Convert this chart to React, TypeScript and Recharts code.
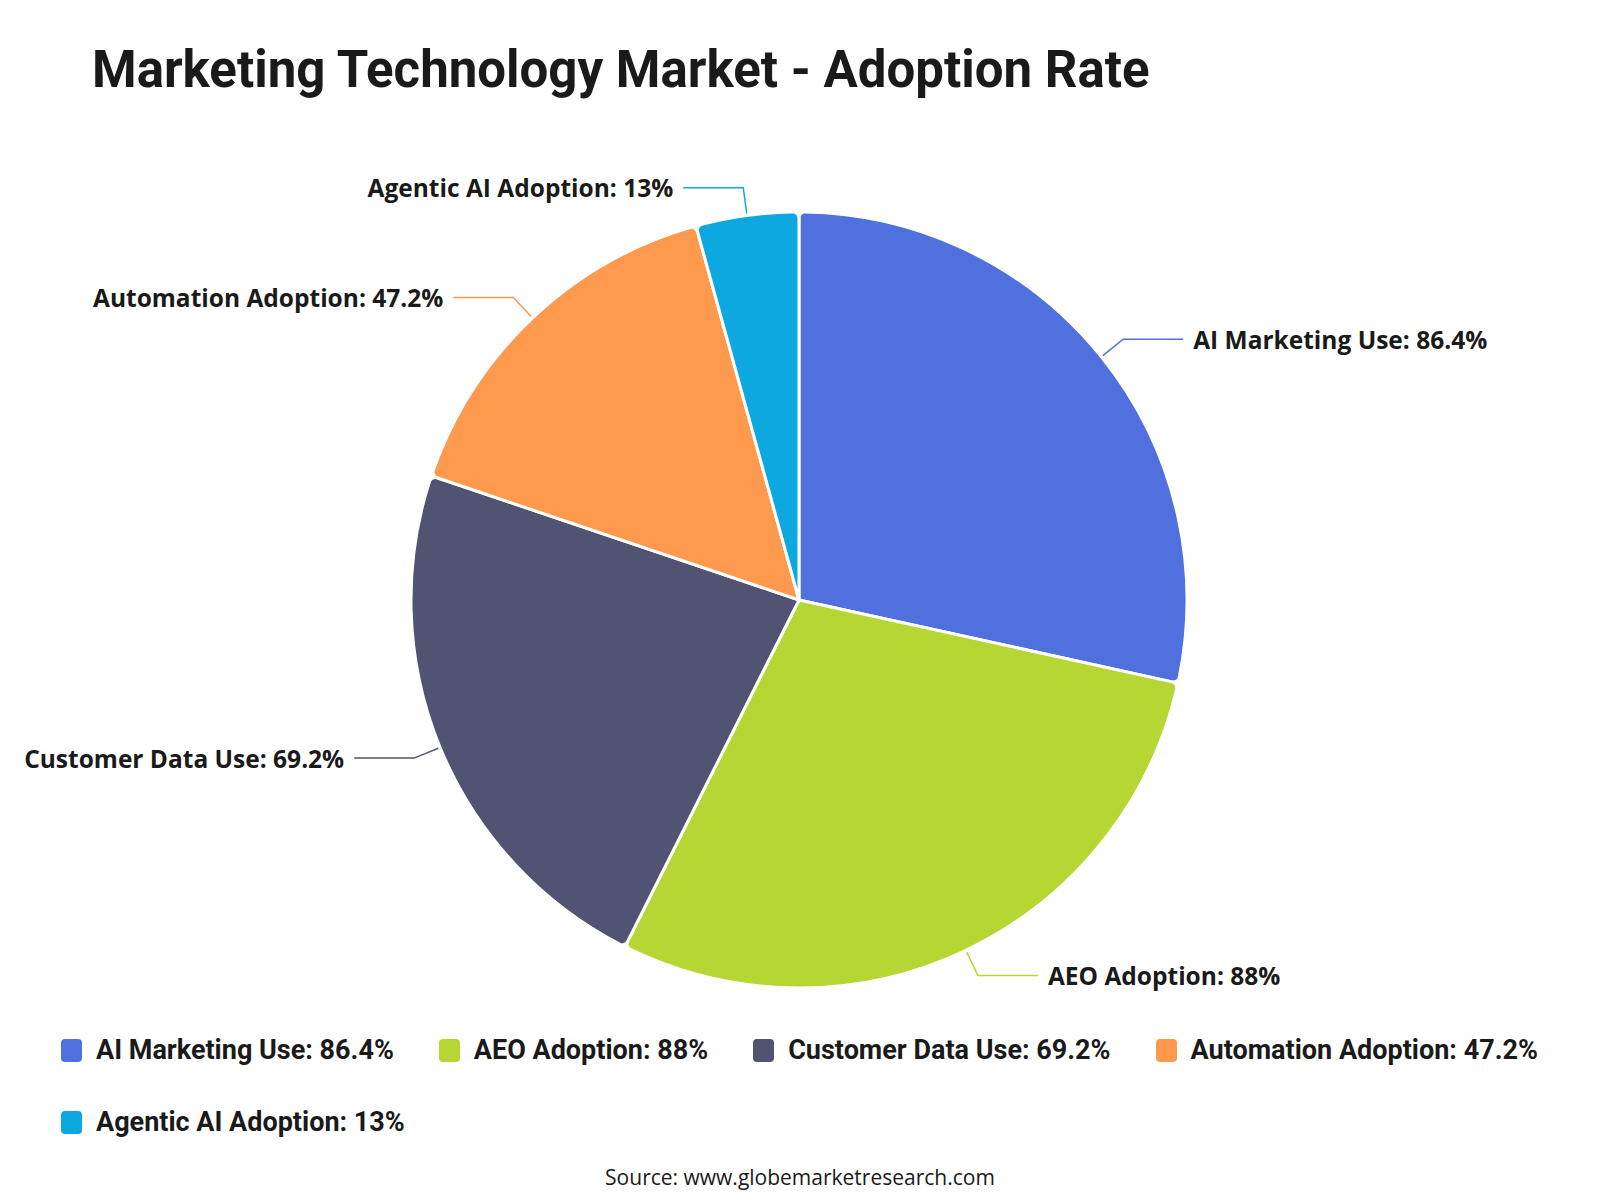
import { Legend, Pie, PieChart, Cell } from "recharts";

const categories = [
  "AI Marketing Use",
  "AEO Adoption",
  "Customer Data Use",
  "Automation Adoption",
  "Agentic AI Adoption",
];
const adoption = [86.4, 88, 69.2, 47.2, 13];
const colors = ["#5070dd", "#b6d634", "#505372", "#ff994d", "#0ca8df"];

const data = categories.map((name, i) => ({ name, value: adoption[i] }));

const RAD = Math.PI / 180;

function renderLabel(props: any) {
  const { cx, cy, midAngle, outerRadius, name, value, index } = props;
  const cos = Math.cos(-midAngle * RAD);
  const sin = Math.sin(-midAngle * RAD);
  const sx = cx + (outerRadius + 2) * cos;
  const sy = cy + (outerRadius + 2) * sin;
  const mx = cx + (outerRadius + 28) * cos;
  const my = cy + (outerRadius + 28) * sin;
  const right = cos >= 0;
  const ex = mx + (right ? 60 : -60);
  const tx = ex + (right ? 10 : -10);
  return (
    <g>
      <polyline
        points={`${sx},${sy} ${mx},${my} ${ex},${my}`}
        fill="none"
        stroke={colors[index]}
        strokeWidth={1.5}
      />
      <text
        x={tx}
        y={my}
        textAnchor={right ? "start" : "end"}
        dominantBaseline="central"
        fontFamily="'Open Sans', sans-serif"
        fontWeight={700}
        fontSize={24.5}
        fill="#1a1a1a"
      >
        {`${name}: ${value}%`}
      </text>
    </g>
  );
}

function LegendContent() {
  return (
    <div
      style={{
        display: "flex",
        flexWrap: "wrap",
        columnGap: 45,
        rowGap: 36,
        paddingLeft: 61,
        width: 1560,
        boxSizing: "border-box",
      }}
    >
      {data.map((d, i) => (
        <div key={d.name} style={{ display: "flex", alignItems: "center", height: 36 }}>
          <span
            style={{
              width: 21,
              height: 23,
              borderRadius: 4,
              background: colors[i],
              marginRight: 14,
              display: "inline-block",
            }}
          />
          <span
            style={{
              fontFamily: "Roboto, sans-serif",
              fontWeight: 700,
              fontSize: 27,
              color: "#1a1a1a",
            }}
          >
            {`${d.name}: ${d.value}%`}
          </span>
        </div>
      ))}
    </div>
  );
}

export default function App() {
  return (
    <div style={{ position: "fixed", left: 0, top: 0, width: 1600, height: 1200, background: "#fff" }}>
      <div
        style={{
          position: "absolute",
          left: 92,
          top: 40,
          fontFamily: "Roboto, sans-serif",
          fontWeight: 700,
          fontSize: 51,
          lineHeight: "60px",
          color: "#1a1a1a",
        }}
      >
        Marketing Technology Market - Adoption Rate
      </div>
      <PieChart width={1600} height={1200} margin={{ top: 0, right: 0, bottom: 0, left: 0 }}>
        <Pie
          data={data}
          dataKey="value"
          nameKey="name"
          cx={799}
          cy={600}
          outerRadius={388}
          startAngle={90}
          endAngle={-270}
          cornerRadius={6}
          stroke="#fff"
          strokeWidth={3}
          label={renderLabel}
          labelLine={false}
          isAnimationActive={false}
        >
          {data.map((d, i) => (
            <Cell key={d.name} fill={colors[i]} />
          ))}
        </Pie>
        <Legend
          content={<LegendContent />}
          wrapperStyle={{ position: "absolute", top: 1032, left: 0, width: 1600 }}
        />
      </PieChart>
      <div
        style={{
          position: "absolute",
          left: 0,
          width: 1600,
          top: 1163,
          textAlign: "center",
          fontFamily: "'Open Sans', sans-serif",
          fontSize: 21,
          color: "#1a1a1a",
        }}
      >
        Source: www.globemarketresearch.com
      </div>
    </div>
  );
}
